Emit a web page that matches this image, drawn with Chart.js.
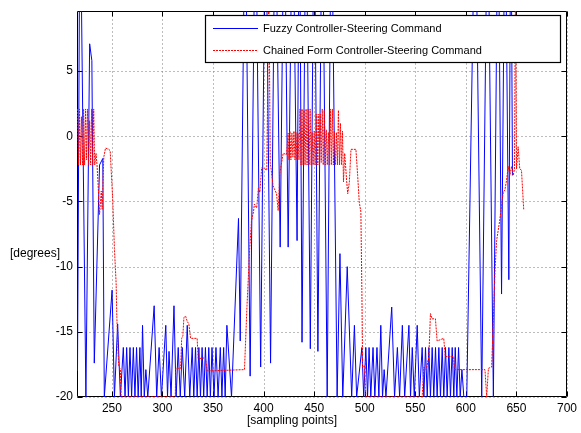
<!DOCTYPE html>
<html>
<head>
<meta charset="utf-8">
<script src="https://cdn.jsdelivr.net/npm/chart.js@4.4.0/dist/chart.umd.min.js"></script>
<style>
  html, body { margin: 0; padding: 0; background: #fff; }
  canvas { display: block; }
</style>
</head>
<body>
<canvas id="steerChart" width="581" height="433"></canvas>
<script>
// axis ticks
const xTicks = [250, 300, 350, 400, 450, 500, 550, 600, 650, 700];
const yTicks = [-20, -15, -10, -5, 0, 5];

// fuzzy controller steering command [degrees] vs sampling point
const fuzzyX = [216, 218.5, 224.3, 228, 230.2, 232.6, 237.8, 241, 242.5, 250.2,
  252.5, 255.7, 258.4, 261.3, 263, 264.6, 266.3, 267.9, 269.5, 271.2,
  272.8, 274.4, 276, 277.7, 279, 280.3, 282, 283.6, 285.5, 291.8,
  294.3, 296.7, 299, 303.3, 305, 306.5, 308.5, 311.4, 313.5, 315.6,
  317.6, 319.6, 322, 324.5, 327, 329.4, 331, 332.7, 334.3, 336,
  337.6, 339.2, 340.8, 342.5, 344.2, 345.8, 347.4, 349, 351, 352.9,
  355, 357.2, 358.8, 360.5, 362, 363.7, 368.3, 375.2, 376.9, 381.8,
  386.7, 392, 397.1, 402, 406.9, 411.5, 416.4, 420.4, 424.3, 428.7,
  433.1, 435.5, 438, 442, 446.2, 450, 453.7, 458, 462.9, 467,
  472.7, 475.5, 478.3, 482.7, 487.1, 489.8, 492, 497.2, 499, 501.1,
  502.8, 504.3, 506, 508.2, 510, 512.1, 514, 515.9, 517.6, 519.2,
  521, 526.7, 529.5, 532.3, 534.5, 537.2, 539.5, 543.7, 545.3, 547,
  549, 551.9, 554, 556.8, 558.5, 560.1, 561.8, 563.4, 565, 566.7,
  568.3, 570, 571.6, 573.3, 574.9, 576.6, 578.2, 579.9, 581.5, 583.2,
  584.8, 586.5, 588.1, 589.5, 591.1, 592.8, 594.4, 596.1, 598, 600.9,
  609.3, 615.7, 621.5, 627.2, 631.8, 635.3, 638.8, 642.5, 644.5, 646.1];
const fuzzyY = [-18, 20, -20, 7.1, 5.8, -17.4, -2.2, -1.7, -20, -11.8,
  -20, -14.4, -20, -16.2, -20, -16.2, -20, -16.2, -20, -16.2,
  -20, -16.2, -20, -16.2, -20, -14.5, -20, -17.9, -20, -13,
  -20, -16.2, -20, -14.5, -20, -16.5, -20, -13, -20, -16.2,
  -20, -16.2, -20, -14.5, -20, -16.2, -20, -16.2, -20, -16.2,
  -20, -16.2, -20, -16.2, -20, -16.2, -20, -16.2, -20, -16.2,
  -20, -16.2, -20, -16.2, -20, -14.5, -20, -6.3, -15.7, 20,
  -18.4, 20, -17.7, 20, -17.4, 20, -8.5, 20, -8.5, 20,
  -8, 20, -15.8, 20, -16.3, 20, -16.5, 20, -20, 20,
  -20, -9, -20, -10, -20, -14.5, -20, -16.2, -20, -16.2,
  -20, -16.2, -20, -16.2, -20, -16.2, -20, -14.5, -20, -17.9,
  -20, -13.1, -20, -16.2, -20, -14.5, -20, -14.5, -20, -16.2,
  -20, -14.5, -20, -16.2, -20, -16.2, -20, -16.2, -20, -16.2,
  -20, -16.2, -20, -16.2, -20, -16.2, -20, -16.2, -20, -16.2,
  -20, -16.2, -20, -16.2, -20, -16.2, -20, -17.9, -20, -20,
  20, -20, 20, -20, 20, -12.1, 20, -11, 20, -3];

// chained form controller steering command [degrees] vs sampling point
const chainedX = [216, 217, 218, 219, 220, 221, 222, 223, 224, 225,
  226, 227, 228, 229, 230, 231, 232, 233, 234.3, 235.3,
  236.3, 237.8, 239.5, 240.4, 242, 243.7, 246.9, 248.3, 250.8, 252.5,
  254.2, 254.9, 256.7, 258.4, 259.1, 312.7, 313.1, 318, 319, 320.2,
  321.2, 322.9, 324.5, 326.1, 327.8, 334.3, 335.3, 342.5, 344.1, 381.1,
  383.6, 386, 388, 390, 390.9, 393.2, 394.8, 396.3, 398.1, 401.4,
  403.2, 405.2, 406.6, 409.4, 412.8, 414.4, 416.1, 419.4, 422.6, 424.3,
  425, 426, 427, 428, 429, 430, 431, 432, 433, 434,
  435, 436, 437, 438, 439, 440, 441, 442, 443, 444,
  445, 446, 447, 448, 449, 450, 451, 452, 453, 454,
  455, 456, 457, 458, 459, 460, 461, 462, 463, 464,
  465, 466, 467, 468, 469, 470, 471, 472, 473, 474,
  475, 476, 477, 478, 479, 480.2, 482.2, 483.2, 484.8, 486.4,
  491.3, 493, 494.6, 496.2, 497.2, 497.9, 499.6, 501.2, 556.8, 558.5,
  560.8, 563.4, 565, 566.6, 569.9, 571.6, 578.1, 579.7, 588, 588.6,
  618.9, 620.6, 622.3, 625.5, 628.8, 630.4, 633.4, 635.3, 637, 638.6,
  640.2, 641.9, 643.5, 645.2, 646.8, 648.1, 649.1, 650.1, 651.7, 653.3,
  655, 657.2];
const chainedY = [2.1, -2.2, 2.1, -2.2, 1.5, -2.2, 2.1, -2.2, 2.1, -1.8,
  2.1, -2.2, 1.2, -2.2, 2.1, -2.2, 2.1, -2.2, -1.3, -2.2,
  -3.6, -6, -4.2, -5.6, -1.6, -0.9, -1.0, -1.1, -4.8, -8.6,
  -11.3, -13.9, -17.6, -17.9, -20, -20, -17.8, -17.8, -15.5, -15.3,
  -13.9, -13.8, -14.2, -14.4, -15.5, -15.5, -17.05, -17, -18, -17.9,
  -13, -9, -6.5, -5.8, -5.2, -5.5, -4.0, -4.3, -2.4, -2.5,
  -2.6, 12, -2.0, -3.8, -4.4, -5.7, -2.8, -1.3, -1.4, 0.25,
  -1.8, 0.4, -1.8, 0.25, -1.6, 0.4, -1.8, 0.3, -1.8, 0.25,
  -1.8, 2.1, -2.2, 2.1, -2.2, 2.0, -2.2, 2.1, -2.2, 2.1,
  -2.2, 2.1, -2.2, 0.3, -2.2, 0.4, -2.2, 1.7, -2.2, 1.7,
  -2.2, 1.7, -2.0, 2.1, -2.2, 2.0, -2.2, 0.5, -2.2, 0.3,
  -2.2, 2.1, -2.2, 2.1, -2.2, 0.4, -2.2, 0.3, -2.2, 2.0,
  -2.2, 1.0, -2.2, 0.4, -3.5, -1.3, -3.5, -4.4, -3.5, -1.0,
  -1.0, -3.0, -5.05, -5.8, -12, -17.7, -17.6, -20, -20, -17.7,
  -17.9, -16.9, -13.6, -14.0, -14.0, -15.7, -15.5, -16.9, -16.9, -17.9,
  -17.9, -20, -17.8, -17.7, -10.4, -8, -6.5, -5.3, -4.3, -4.1,
  -3.4, -2.3, -3.0, -2.3, -3.0, -2.5, 12, -2.5, -0.8, -2.5,
  -2.6, -5.6];

const seriesLabels = ['Fuzzy Controller-Steering Command', 'Chained Form Controller-Steering Command'];
const FONT = '"Liberation Sans", Arial, Helvetica, sans-serif';

const toPoints = (xs, ys) => xs.map((x, i) => ({ x: x, y: ys[i] }));

// grid, box and inward tick marks under the lines
const axesBox = {
  id: 'axesBox',
  beforeDatasetsDraw(chart) {
    const { ctx, chartArea: a, scales: { x, y } } = chart;
    const L = Math.round(a.left) + 0.5, R = Math.round(a.right) - 0.5;
    const T = Math.round(a.top) + 0.5, B = Math.round(a.bottom) - 0.5;
    ctx.save();
    ctx.lineWidth = 1;
    ctx.strokeStyle = '#7a7a7a';
    ctx.setLineDash([1, 3]);
    ctx.beginPath();
    xTicks.forEach(v => {
      const px = Math.round(x.getPixelForValue(v)) + 0.5;
      ctx.moveTo(px, T); ctx.lineTo(px, B);
    });
    yTicks.forEach(v => {
      const py = Math.round(y.getPixelForValue(v)) + 0.5;
      ctx.moveTo(L, py); ctx.lineTo(R, py);
    });
    ctx.stroke();

    ctx.setLineDash([]);
    ctx.strokeStyle = '#000';
    ctx.beginPath();
    ctx.rect(L, T, R - L, B - T);
    const tl = 5;
    xTicks.forEach(v => {
      const px = Math.round(x.getPixelForValue(v)) + 0.5;
      ctx.moveTo(px, B); ctx.lineTo(px, B - tl);
      ctx.moveTo(px, T); ctx.lineTo(px, T + tl);
    });
    yTicks.forEach(v => {
      const py = Math.round(y.getPixelForValue(v)) + 0.5;
      ctx.moveTo(L, py); ctx.lineTo(L + tl, py);
      ctx.moveTo(R, py); ctx.lineTo(R - tl, py);
    });
    ctx.stroke();
    ctx.restore();
  },
  afterDatasetsDraw(chart) {
    const { ctx } = chart;
    const ds = chart.data.datasets;
    // legend box
    const bx = 205.5, by = 15.5, bw = 355, bh = 47;
    ctx.save();
    ctx.fillStyle = '#fff';
    ctx.fillRect(bx, by, bw, bh);
    ctx.strokeStyle = '#000';
    ctx.lineWidth = 1.2;
    ctx.strokeRect(bx, by, bw, bh);
    ctx.font = '11px ' + FONT;
    ctx.textBaseline = 'middle';
    ctx.textAlign = 'left';
    [28.5, 50.5].forEach((ry, i) => {
      ctx.strokeStyle = ds[i].borderColor;
      ctx.lineWidth = 1;
      ctx.setLineDash(ds[i].borderDash || []);
      ctx.beginPath();
      ctx.moveTo(213, ry); ctx.lineTo(258, ry);
      ctx.stroke();
      ctx.fillStyle = '#000';
      ctx.fillText(ds[i].label, 263, ry);
    });
    ctx.restore();
  },
  afterDraw(chart) {
    const { ctx } = chart;
    ctx.save();
    ctx.fillStyle = '#000';
    ctx.font = '12px ' + FONT;
    ctx.textBaseline = 'middle';
    ctx.textAlign = 'center';
    ctx.fillText('[sampling points]', 292, 421);
    ctx.textAlign = 'left';
    ctx.fillText('[degrees]', 10, 254);
    ctx.restore();
  }
};

new Chart(document.getElementById('steerChart'), {
  type: 'line',
  data: {
    datasets: [
      {
        label: seriesLabels[0],
        data: toPoints(fuzzyX, fuzzyY),
        borderColor: '#0000ff',
        borderWidth: 1,
        pointRadius: 0,
        tension: 0,
        order: 1
      },
      {
        label: seriesLabels[1],
        data: toPoints(chainedX, chainedY),
        borderColor: '#ff0000',
        borderWidth: 1,
        borderDash: [2, 1],
        pointRadius: 0,
        tension: 0,
        order: 0
      }
    ]
  },
  options: {
    responsive: false,
    animation: false,
    events: [],
    layout: { padding: { top: 7, right: 10, left: 0, bottom: 0 } },
    plugins: { legend: { display: false }, tooltip: { enabled: false } },
    scales: {
      x: {
        type: 'linear',
        min: 215.5,
        max: 700,
        afterBuildTicks: s => { s.ticks = xTicks.map(v => ({ value: v })); },
        afterFit: s => { s.height = 36; },
        grid: { display: false, drawTicks: false },
        border: { display: false },
        ticks: { padding: 4, color: '#000', font: { family: FONT, size: 12 }, maxRotation: 0 }
      },
      y: {
        min: -20,
        max: 9.6,
        afterBuildTicks: s => { s.ticks = yTicks.map(v => ({ value: v })); },
        afterFit: s => { s.width = 77; },
        grid: { display: false, drawTicks: false },
        border: { display: false },
        ticks: { padding: 4, color: '#000', font: { family: FONT, size: 12 } }
      }
    }
  },
  plugins: [axesBox]
});
</script>
</body>
</html>
